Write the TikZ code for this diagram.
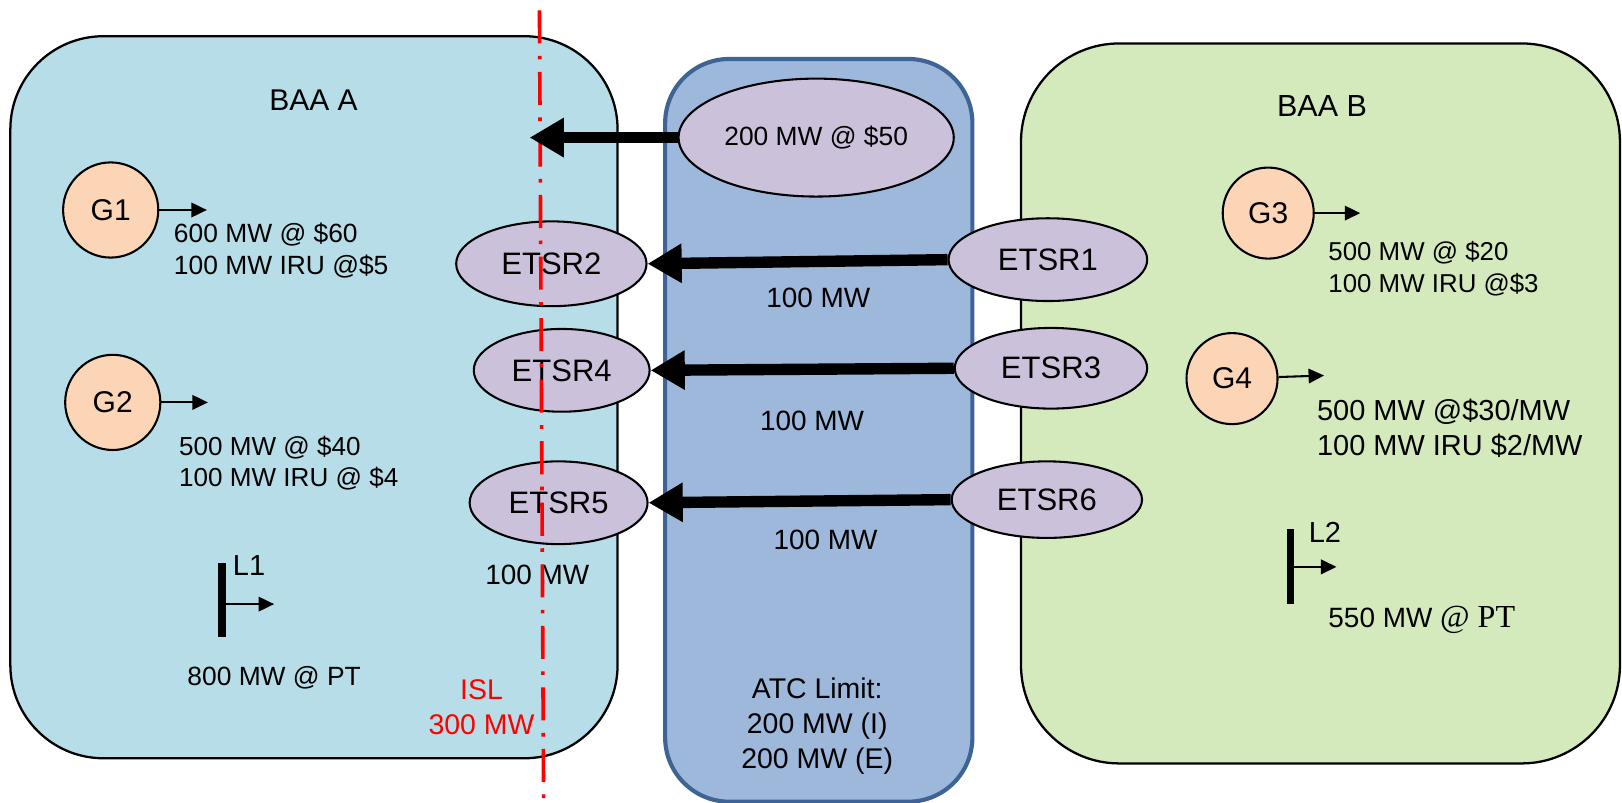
\documentclass[tikz,border=0pt]{standalone}
\usepackage{fontspec}
\setmainfont{Liberation Sans}
\newfontfamily\seriff{Liberation Serif}
\usetikzlibrary{shapes.geometric,arrows.meta}
\definecolor{baaA}{HTML}{B7DEE8}
\definecolor{baaB}{HTML}{D4EABD}
\definecolor{midfill}{HTML}{9DB8DB}
\definecolor{midline}{HTML}{3D6494}
\definecolor{etsr}{HTML}{CBC1DB}
\definecolor{gen}{HTML}{FBD5B5}
\definecolor{islred}{HTML}{FF0000}
\tikzset{
  area/.style={draw=black,line width=2.2pt,rounded corners=90pt},
  ell/.style={ellipse,draw=black,line width=2pt,fill=etsr,inner sep=0pt,
    font=\fontsize{30}{34}\selectfont},
  genc/.style={circle,draw=black,line width=2pt,fill=gen,inner sep=0pt,
    minimum size=92pt,font=\fontsize{29}{34}\selectfont},
  sidetxt/.style={anchor=west,inner sep=0pt,align=left,
    font=\fontsize{25}{31}\selectfont},
  midtxt/.style={inner sep=0pt,align=center,font=\fontsize{27}{34}\selectfont},
  bigarrow/.style={line width=11pt,-{Triangle[length=33pt,width=36pt]}},
  smallarrow/.style={line width=2pt,-{Triangle[length=15pt,width=14pt]}},
  loadbar/.style={fill=black,inner sep=0pt,minimum width=7pt,minimum height=72pt},
}
\begin{document}
\begin{tikzpicture}[x=1pt,y=-1pt]
\useasboundingbox (0,0) rectangle (1568,776);
% areas
\draw[area,fill=baaA] (10,35) rectangle (597,733);
\draw[fill=midfill,draw=midline,line width=4pt,rounded corners=62pt] (643,57) rectangle (940,775);
\draw[area,fill=baaB,rounded corners=95pt] (987,42) rectangle (1566,738);
% titles
\node[inner sep=0pt,font=\fontsize{29}{34}\selectfont] (titleA) at (303,97) {BAA A};
\node[inner sep=0pt,font=\fontsize{29.5}{34}\selectfont] (titleB) at (1278,102) {BAA B};
% ellipses
\node[ell,minimum width=266pt,minimum height=114pt,font=\fontsize{25.5}{30}\selectfont] (offer) at (789,133) {200 MW @ \$50};
\node[ell,minimum width=184pt,minimum height=82pt] (E2) at (533,255) {ETSR2};
\node[ell,minimum width=192pt,minimum height=80pt] (E1) at (1013,251) {ETSR1};
\node[ell,minimum width=170pt,minimum height=80pt] (E4) at (543,358) {ETSR4};
\node[ell,minimum width=186pt,minimum height=78pt] (E3) at (1016,356) {ETSR3};
\node[ell,minimum width=172pt,minimum height=80pt] (E5) at (540,486) {ETSR5};
\node[ell,minimum width=184pt,minimum height=74pt] (E6) at (1012,483) {ETSR6};
% generators
\node[genc] (G1) at (107,203) {G1};
\node[genc] (G2) at (109,389) {G2};
\node[genc,minimum size=88pt] (G3) at (1226,206) {G3};
\node[genc,minimum size=88pt] (G4) at (1191,366) {G4};
\coordinate (G1e) at (200,203);
\coordinate (G2e) at (201,389);
\coordinate (G3e) at (1315,206);
\coordinate (G4e) at (1280,363);
\draw[smallarrow] (G1) -- (G1e);
\draw[smallarrow] (G2) -- (G2e);
\draw[smallarrow] (G3) -- (G3e);
\draw[smallarrow] (G4) -- (G4e);
% generator texts
\node[sidetxt,font=\fontsize{25.5}{31}\selectfont] (t1) at (168,242) {600 MW @ \$60\\100 MW IRU @\$5};
\node[sidetxt,font=\fontsize{25.2}{30}\selectfont] (t2) at (173,448) {500 MW @ \$40\\100 MW IRU @ \$4};
\node[sidetxt,font=\fontsize{25}{30.5}\selectfont] (t3) at (1284,260) {500 MW @ \$20\\100 MW IRU @\$3};
\node[sidetxt,font=\fontsize{28}{33}\selectfont] (t4) at (1273,414) {500 MW @\$30/MW\\100 MW IRU \$2/MW};
% loads
\node[loadbar] (L1) at (214.5,580) {};
\coordinate (L1e) at (265,584);
\draw[smallarrow] (L1.east |- L1e) -- (L1e);
\node[sidetxt,font=\fontsize{28}{33}\selectfont] (L1t) at (225,547) {L1};
\node[midtxt,font=\fontsize{25.5}{33}\selectfont] (L1v) at (265,655) {800 MW @ PT};
\node[loadbar,minimum height=73pt] (L2) at (1247.5,547.5) {};
\coordinate (L2e) at (1292,548);
\draw[smallarrow] (L2.east |- L2e) -- (L2e);
\node[sidetxt,font=\fontsize{28}{33}\selectfont] (L2t) at (1265,515) {L2};
\node[sidetxt,font=\fontsize{27}{33}\selectfont] (L2v) at (1284,599) {550 MW {\seriff\fontsize{31}{33}\selectfont @ PT}};
% transfer labels
\node[midtxt] (m1) at (791,288) {100 MW};
\node[midtxt] (m2) at (785,407) {100 MW};
\node[midtxt] (m3) at (798,522) {100 MW};
\node[sidetxt,font=\fontsize{27}{33}\selectfont] (m5) at (469,556) {100 MW};
\node[midtxt,font=\fontsize{27.5}{34}\selectfont] (atc) at (790,702) {ATC Limit:\\200 MW (I)\\200 MW (E)};
% ISL line
\coordinate (islTop) at (521.5,10);
\coordinate (islBot) at (525.5,776);
\draw[islred,line width=3.5pt,dash pattern=on 32pt off 12pt on 3.5pt off 12pt] (islTop) -- (islBot);
\node[midtxt,text=islred,font=\fontsize{27.5}{34}\selectfont] (isl) at (465.5,684) {ISL\\300 MW};
% big arrows
\coordinate (tipA) at (512,133);
\draw[bigarrow] (offer.west) -- (tipA);
\draw[bigarrow] (E1.west) -- (E2.east);
\draw[bigarrow] (E3.west) -- (E4.east);
\draw[bigarrow] (E6.west) -- (E5.east);
\end{tikzpicture}
\end{document}
